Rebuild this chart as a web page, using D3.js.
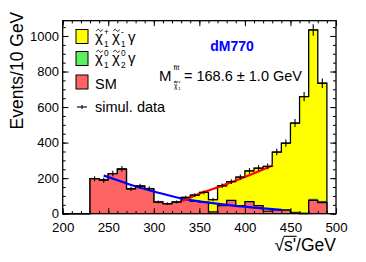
<!DOCTYPE html>
<html><head><meta charset="utf-8">
<script src="https://cdn.jsdelivr.net/npm/d3@7"></script>
<style>
html,body{margin:0;padding:0;background:#fff;}
svg text{font-family:"Liberation Sans",Arial,Helvetica,sans-serif;}
</style></head>
<body><svg id="c" width="366" height="262"></svg>
<script>
// ---------- data ----------
const binLow = [200,210,220,230,240,250,260,270,280,290,300,310,320,330,340,350,360,370,380,390,400,410,420,430,440,450,460,470,480];
const binWidth = 10;
const smValues = [0,0,0,197,190,225,250,140,155,140,65,55,65,80,70,65,10,45,75,45,68,45,15,22,20,5,0,75,63];
const neutralinoValues = [0,0,0,0,0,0,0,0,0,0,0,0,0,0,0,0,0,0,0,0,0,0,0,2,3,3,4,6,6];
const charginoValues = [0,0,0,0,0,0,0,0,0,0,0,0,0,12,35,55,69,112,106,161,173,211,251,323,374,502,655,953,665];
const dataValues = [0,0,0,197,188,226,252,140,156,142,66,56,66,92,105,120,79,157,181,206,241,256,266,347,397,510,659,1034,734];
// fitted curves
const blueFit = [[245,215],[265,180],[285,146],[300,125],[330,86],[360,62],[387,45],[410,34],[440,22]];
const redFit = [[331,71],[350,112],[375,158],[400,207],[431,273]];
const xTicks = [200,250,300,350,400,450,500];
const yTicks = [0,200,400,600,800,1000];
const legendLabels = ["SM","simul. data"];
const massText = "= 168.6 \u00b1 1.0 GeV";
const tagText = "dM770";

// ---------- layout ----------
const svg = d3.select("#c");
const L = 62.7, R = 336, T = 20.7, B = 213.7;
const x = d3.scaleLinear().domain([200,500]).range([L,R]);
const y = d3.scaleLinear().domain([0,1086]).range([B,T]);
const font = '"Liberation Sans",Arial,Helvetica,sans-serif';

const COL_Y = "#ffff00", COL_G = "#5cf05c", COL_R = "#ff6464";

function stackVals(arrs){ return binLow.map((b,i)=>arrs.reduce((s,a)=>s+a[i],0)); }
const totalVals = stackVals([smValues,neutralinoValues,charginoValues]);
const smgVals = stackVals([smValues,neutralinoValues]);

function drawHist(vals, fill, stroke){
  const pts = binLow.map((b,i)=>({x:b,v:vals[i]}));
  pts.push({x:binLow[binLow.length-1]+binWidth, v:vals[vals.length-1]});
  const area = d3.area().curve(d3.curveStepAfter).x(d=>x(d.x)).y0(y(0)).y1(d=>y(d.v));
  svg.append("path").attr("d",area(pts)).attr("fill",fill).attr("stroke","none");
  if(stroke){
    const p = [[x(binLow[0]),y(0)]];
    binLow.forEach((b,i)=>{p.push([x(b),y(vals[i])]);p.push([x(b+binWidth),y(vals[i])]);});
    p.push([x(binLow[binLow.length-1]+binWidth),y(0)]);
    svg.append("path").attr("d",d3.line()(p)).attr("fill","none").attr("stroke",stroke).attr("stroke-width",1.3);
  }
}
drawHist(totalVals, COL_Y, "#000");
drawHist(smgVals, COL_G, null);
binLow.forEach((b,i)=>{ if(neutralinoValues[i]>0){ svg.append("line").attr("x1",x(b)).attr("x2",x(b+binWidth)).attr("y1",y(smgVals[i])).attr("y2",y(smgVals[i])).attr("stroke","#1a6a1a").attr("stroke-width",1);} });
drawHist(smValues, COL_R, "#000");

// fitted curves
const lineGen = d3.line().curve(d3.curveMonotoneX).x(d=>x(d[0])).y(d=>y(d[1]));
svg.append("path").attr("d",lineGen(blueFit)).attr("fill","none").attr("stroke","#0000ff").attr("stroke-width",2.2);
svg.append("path").attr("d",lineGen(redFit)).attr("fill","none").attr("stroke","#ff0000").attr("stroke-width",2.2);

// data points
const dg = svg.append("g").attr("stroke","#000").attr("stroke-width",1.1);
binLow.forEach((b,i)=>{
  const v = dataValues[i], e = Math.sqrt(v);
  const cx = x(b+binWidth/2);
  dg.append("line").attr("x1",x(b)).attr("x2",x(b+binWidth)).attr("y1",y(v)).attr("y2",y(v));
  if(e>0) dg.append("line").attr("x1",cx).attr("x2",cx).attr("y1",y(v-e)).attr("y2",y(v+e));
});

// axes
function styleAxis(g, fs){
  g.select(".domain").remove();
  g.selectAll("line").attr("stroke","#000").attr("stroke-width",1);
  g.selectAll("text").attr("font-family",font).attr("font-size",fs).attr("fill","#000");
}
const xMinor = d3.range(200,501,10);
const yMinor = d3.range(0,1086,50);
svg.append("g").attr("transform",`translate(0,${B})`).call(d3.axisBottom(x).tickValues(xMinor).tickSizeInner(-2.7).tickFormat("")).call(g=>styleAxis(g,0));
svg.append("g").attr("transform",`translate(0,${B})`).call(d3.axisBottom(x).tickValues(xTicks).tickSizeInner(-5.5).tickPadding(0).tickFormat(d3.format("d"))).call(g=>styleAxis(g,13.3)).call(g=>g.selectAll("text").attr("y",18.8).attr("dy",0));
svg.append("g").attr("transform",`translate(0,${T})`).call(d3.axisTop(x).tickValues(xMinor).tickSizeInner(-2.7).tickFormat("")).call(g=>styleAxis(g,0));
svg.append("g").attr("transform",`translate(0,${T})`).call(d3.axisTop(x).tickValues(xTicks).tickSizeInner(-5.5).tickFormat("")).call(g=>styleAxis(g,0));
svg.append("g").attr("transform",`translate(${L},0)`).call(d3.axisLeft(y).tickValues(yMinor).tickSizeInner(-3).tickFormat("")).call(g=>styleAxis(g,0));
svg.append("g").attr("transform",`translate(${L},0)`).call(d3.axisLeft(y).tickValues(yTicks).tickSizeInner(-5.8).tickPadding(3.8).tickFormat(d3.format("d"))).call(g=>styleAxis(g,13));
svg.append("g").attr("transform",`translate(${R},0)`).call(d3.axisRight(y).tickValues(yMinor).tickSizeInner(-3).tickFormat("")).call(g=>styleAxis(g,0));
svg.append("g").attr("transform",`translate(${R},0)`).call(d3.axisRight(y).tickValues(yTicks).tickSizeInner(-5.8).tickFormat("")).call(g=>styleAxis(g,0));
svg.append("rect").attr("x",L).attr("y",T).attr("width",R-L).attr("height",B-T).attr("fill","none").attr("stroke","#000").attr("stroke-width",1.3);

// axis titles
svg.append("text").attr("transform",`translate(23,${T-9}) rotate(-90)`).attr("text-anchor","end")
  .attr("font-size",17.5).attr("fill","#000").text("Events/10 GeV");
const xt = svg.append("text").attr("x",R).attr("y",251).attr("text-anchor","end").attr("font-size",17.5).attr("fill","#000")
  .text("\u221as'/GeV");
(function(){
  const n = xt.node();
  const x0 = n.getEndPositionOfChar(0).x, x1 = n.getEndPositionOfChar(2).x;
  svg.append("line").attr("x1",x0-0.5).attr("x2",x1+0.5).attr("y1",236.3).attr("y2",236.3).attr("stroke","#000").attr("stroke-width",1.1);
})();

// ---------- legend ----------
function tilde(xc, yc, w){
  const p = d3.path();
  p.moveTo(xc-w/2, yc+0.8);
  p.bezierCurveTo(xc-w/4, yc-1.8, xc-w/8, yc-1.2, xc, yc);
  p.bezierCurveTo(xc+w/8, yc+1.2, xc+w/4, yc+1.8, xc+w/2, yc-0.8);
  svg.append("path").attr("d",p.toString()).attr("fill","none").attr("stroke","#000").attr("stroke-width",0.9);
}
function chi(xp, yp, sup, sub, fs){
  svg.append("text").attr("x",xp).attr("y",yp).attr("font-size",fs).text("\u03c7");
  tilde(xp+fs*0.3, yp-fs*0.78, fs*0.42);
  svg.append("text").attr("x",xp+fs*0.6).attr("y",yp-fs*0.45).attr("font-size",fs*0.55).text(sup);
  svg.append("text").attr("x",xp+fs*0.6).attr("y",yp+fs*0.3).attr("font-size",fs*0.55).text(sub);
}
const boxX = 76, boxW = 12, boxH = 14;
const rows = [36.5, 58.5, 82];
[COL_Y,COL_G,COL_R].forEach((c,i)=>{
  svg.append("rect").attr("x",boxX).attr("y",rows[i]-boxH/2).attr("width",boxW).attr("height",boxH)
    .attr("fill",c).attr("stroke","#000").attr("stroke-width",1);
});
chi(95,42,"+","1",15); chi(112,42,"-","1",15);
svg.append("text").attr("x",128).attr("y",42).attr("font-size",15).text("\u03b3");
chi(95,63,"0","1",15); chi(112,63,"0","2",15);
svg.append("text").attr("x",128).attr("y",63).attr("font-size",15).text("\u03b3");
svg.append("text").attr("x",95).attr("y",88.5).attr("font-size",14.5).text(legendLabels[0]);
svg.append("line").attr("x1",77).attr("x2",87).attr("y1",107).attr("y2",107).attr("stroke","#000").attr("stroke-width",1.1);
svg.append("line").attr("x1",82).attr("x2",82).attr("y1",105).attr("y2",109).attr("stroke","#000").attr("stroke-width",1.1);
svg.append("text").attr("x",95).attr("y",111.5).attr("font-size",14.5).text(legendLabels[1]);

// annotations
svg.append("text").attr("x",232).attr("y",51).attr("text-anchor","middle").attr("font-size",14).attr("font-weight","bold").attr("fill","#0000ff").text(tagText);
svg.append("text").attr("x",159).attr("y",80.5).attr("font-size",15).text("M");
svg.append("text").attr("x",173.5).attr("y",70).attr("font-size",7.5).text("fit");
svg.append("text").attr("x",174).attr("y",88).attr("font-size",6.5).text("\u03c7");
tilde(175.8, 82, 3);
svg.append("text").attr("x",178.3).attr("y",83.2).attr("font-size",4.3).text("\u00b1");
svg.append("text").attr("x",178.3).attr("y",90.3).attr("font-size",4.3).text("1");
svg.append("text").attr("x",184).attr("y",80.5).attr("font-size",14.5).text(massText);
</script></body></html>
